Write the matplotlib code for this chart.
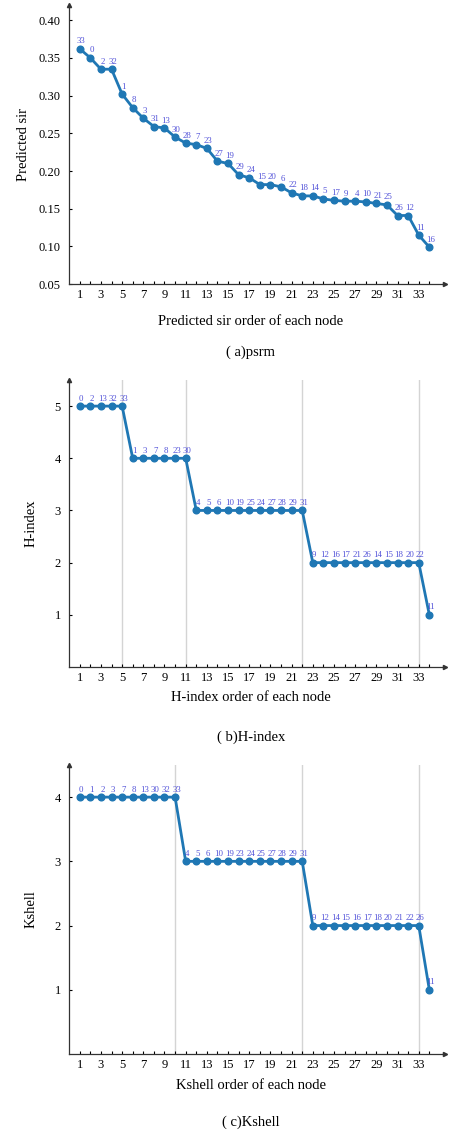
import numpy as np
import matplotlib.pyplot as plt

serif = ['Liberation Serif', 'DejaVu Serif']
plt.rcParams['font.family'] = serif

# (a) psrm
psrm_nodes = [33, 0, 2, 32, 1, 8, 3, 31, 13, 30, 28, 7, 23, 27, 19, 29, 24,
              15, 20, 6, 22, 18, 14, 5, 17, 9, 4, 10, 21, 25, 26, 12, 11, 16]
psrm_vals = [0.362, 0.350, 0.335, 0.335, 0.302, 0.284, 0.270, 0.259, 0.257,
             0.245, 0.237, 0.235, 0.230, 0.213, 0.210, 0.195, 0.191, 0.182,
             0.182, 0.179, 0.171, 0.167, 0.167, 0.163, 0.161, 0.160, 0.160,
             0.159, 0.157, 0.155, 0.141, 0.141, 0.115, 0.099]

# (b) H-index
hidx_nodes = [0, 2, 13, 32, 33, 1, 3, 7, 8, 23, 30, 4, 5, 6, 10, 19, 25, 24,
              27, 28, 29, 31, 9, 12, 16, 17, 21, 26, 14, 15, 18, 20, 22, 11]
hidx_vals = [5] * 5 + [4] * 6 + [3] * 11 + [2] * 11 + [1]
hidx_breaks = [5, 11, 22, 33]

# (c) Kshell
ksh_nodes = [0, 1, 2, 3, 7, 8, 13, 30, 32, 33, 4, 5, 6, 10, 19, 23, 24, 25,
             27, 28, 29, 31, 9, 12, 14, 15, 16, 17, 18, 20, 21, 22, 26, 11]
ksh_vals = [4] * 10 + [3] * 12 + [2] * 11 + [1]
ksh_breaks = [10, 22, 33]

fig = plt.figure(figsize=(4.52, 11.32), dpi=100)

panels = [
    ([0.153, 0.749, 0.832, 0.2465], psrm_nodes, psrm_vals, [],
     (0.05, 0.42), np.arange(0.05, 0.401, 0.05), 'Predicted sir',
     'Predicted sir order of each node', '( a)psrm', 0.716, 0.689),
    ([0.153, 0.4108, 0.832, 0.2535], hidx_nodes, hidx_vals, hidx_breaks,
     (0, 5.5), [1, 2, 3, 4, 5], 'H-index',
     'H-index order of each node', '( b)H-index', 0.384, 0.349),
    ([0.153, 0.0689, 0.832, 0.2553], ksh_nodes, ksh_vals, ksh_breaks,
     (0, 4.5), [1, 2, 3, 4], 'Kshell',
     'Kshell order of each node', '( c)Kshell', 0.041, 0.009),
]

for rect, nodes, vals, breaks, ylim, yticks, ylab, xlab, cap, xl_y, cap_y in panels:
    ax = fig.add_axes(rect)
    x = np.arange(1, len(vals) + 1)
    for b in breaks:
        ax.axvline(b, color='#d4d4d4', lw=1, zorder=0)
    ax.plot(x, vals, '-o', color='#1f77b4', lw=2, ms=4.8, zorder=3)
    for xi, yi, n in zip(x, vals, nodes):
        ax.annotate(str(n), (xi, yi), xytext=(1, 2.5), textcoords='offset points',
                    ha='center', va='bottom', fontsize=6.3, color='#5050d8')
    ax.set_xlim(0, 35.5)
    ax.set_ylim(*ylim)
    ax.set_xticks(np.arange(1, 35, 2))
    ax.set_xticks(np.arange(1, 35), minor=True)
    ax.set_yticks(yticks)
    if ylab == 'Predicted sir':
        ax.set_yticklabels(['%.2f' % t for t in yticks])
    ax.tick_params(axis='both', direction='in', length=2.5, width=0.8, labelsize=9)
    ax.tick_params(axis='x', which='minor', direction='in', length=2.5, width=0.8)
    ax.tick_params(axis='y', pad=6)
    for s in ['top', 'right']:
        ax.spines[s].set_visible(False)
    for s in ['left', 'bottom']:
        ax.spines[s].set_linewidth(0.9)
        ax.spines[s].set_color('#333333')
    ax.plot(1, 0, '>', color='#333333', ms=3, transform=ax.transAxes, clip_on=False)
    ax.plot(0, 1, '^', color='#333333', ms=3, transform=ax.transAxes, clip_on=False)
    ax.set_ylabel(ylab, fontsize=10.5, labelpad=6 if ylab == 'Predicted sir' else 12)
    fig.text(0.555, xl_y, xlab, ha='center', va='center', fontsize=10.5)
    fig.text(0.555, cap_y, cap, ha='center', va='center', fontsize=10.5)

fig.savefig('out.png', dpi=100)
